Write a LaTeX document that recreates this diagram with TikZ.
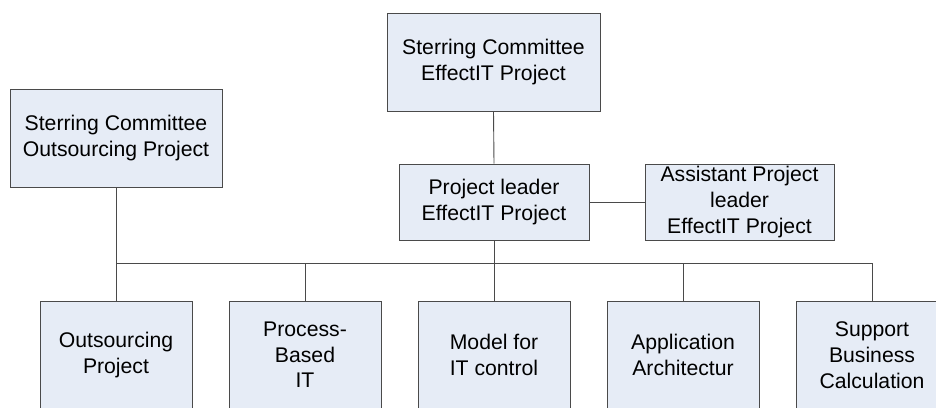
\documentclass[tikz,border=0pt]{standalone}
\usepackage{fontspec}
\setmainfont{Liberation Sans}
\definecolor{boxfill}{HTML}{E6ECF6}
\definecolor{edge}{HTML}{4A4A4A}
\begin{document}
\begin{tikzpicture}[x=1pt,y=-1pt,
  box/.style={draw=edge,fill=boxfill,line width=0.9pt,rectangle,inner sep=0pt,
    align=center,font=\fontsize{21.2}{25.7}\selectfont},
  link/.style={draw=edge,line width=0.9pt}]
\useasboundingbox[fill=white] (0,0) rectangle (936,407);
\node[box,minimum width=213,minimum height=98] (top) at (493.5,62) {Sterring Committee\\EffectIT Project};
\node[box,minimum width=212,minimum height=98] (left) at (116,138) {Sterring Committee\\Outsourcing Project};
\node[box,minimum width=190,minimum height=76] (pl) at (494,202) {Project leader\\EffectIT Project};
\node[box,minimum width=189,minimum height=76] (asst) at (739.5,202) {Assistant Project\\leader\\EffectIT Project};
\node[box,minimum width=152,minimum height=108] (b1) at (116,355) {Outsourcing\\Project};
\node[box,minimum width=152,minimum height=108] (b2) at (305,355) {Process-\\Based\\IT};
\node[box,minimum width=152,minimum height=108] (b3) at (494,355) {Model for\\IT control};
\node[box,minimum width=152,minimum height=108] (b4) at (683,355) {Application\\Architectur};
\node[box,minimum width=152,minimum height=108] (b5) at (872,355) {Support\\Business\\Calculation};
\coordinate (bus) at (0,263);
\draw[link] (top.south) -- (pl.north);
\draw[link] (pl.east) -- (asst.west);
\draw[link] (left.south) -- (b1.north);
\draw[link] (pl.south) -- (b3.north);
\draw[link] (b1.north |- bus) -- (b5.north |- bus);
\draw[link] (b2.north |- bus) -- (b2.north);
\draw[link] (b4.north |- bus) -- (b4.north);
\draw[link] (b5.north |- bus) -- (b5.north);
\end{tikzpicture}
\end{document}
